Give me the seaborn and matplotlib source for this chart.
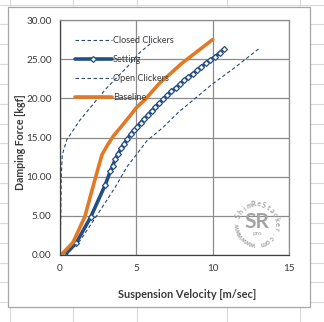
import numpy as np
import pandas as pd
import matplotlib
matplotlib.use("Agg")
import matplotlib.pyplot as plt
from matplotlib.lines import Line2D
from matplotlib.patches import Rectangle
import seaborn as sns

# ---- damper curves: suspension velocity [m/sec] vs damping force [kgf] ----
closed_x = [0.0, 0.05, 0.08, 0.15, 0.44, 1.3, 2.4, 3.05, 4.4, 5.2, 6.0]
closed_y = [0.0, 5.0, 10.0, 12.8, 14.7, 17.2, 19.8, 21.3, 24.0, 25.8, 27.1]

setting_x = [0.30, 1.05, 2.00, 2.95, 3.30, 3.45, 3.62, 3.80, 4.00, 4.20, 4.41,
             4.62, 4.84, 5.06, 5.29, 5.52, 5.76, 6.00, 6.25, 6.51, 6.77, 7.03,
             7.30, 7.57, 7.84, 8.12, 8.40, 8.68, 8.97, 9.26, 9.55, 9.85, 10.15,
             10.45, 10.75]
setting_y = [0.0, 1.5, 4.8, 8.9, 10.7, 11.4, 12.2, 12.9, 13.6, 14.2, 14.8,
             15.4, 15.9, 16.4, 16.9, 17.4, 17.9, 18.4, 18.9, 19.4, 19.9, 20.4,
             20.9, 21.3, 21.8, 22.3, 22.7, 23.1, 23.6, 24.0, 24.5, 24.9, 25.3,
             25.8, 26.3]

open_x = [0.35, 1.3, 2.4, 3.6, 4.4, 5.0, 5.7, 6.7, 7.8, 8.8, 9.9, 11.5, 13.0]
open_y = [0.0, 1.8, 5.0, 8.6, 11.3, 12.8, 14.6, 16.2, 18.3, 19.9, 21.7, 24.0, 26.3]

base_x = [0.07, 0.85, 1.63, 1.96, 2.4, 2.75, 3.1, 3.5, 4.1, 4.6, 5.0, 5.6,
          6.5, 7.2, 8.0, 8.8, 9.4, 10.0]
base_y = [0.0, 1.6, 4.9, 7.3, 10.4, 12.8, 14.0, 15.2, 16.6, 17.8, 18.8, 19.9,
          21.9, 23.1, 24.5, 25.7, 26.6, 27.5]

x_ticks = [0, 5, 10, 15]
y_ticks = [0, 5, 10, 15, 20, 25, 30]
x_label = "Suspension Velocity [m/sec]"
y_label = "Damping Force [kgf]"

sns.set_style("white")
plt.rcParams["font.family"] = ["Lato", "DejaVu Sans"]

W, H = 324, 322
fig = plt.figure(figsize=(W / 100, H / 100), dpi=100)
fig.patch.set_facecolor("white")

# spreadsheet cell grid behind the chart object
cell_color = "#d9d9d9"
for yy in np.arange(4.5, H, 19.85):
    fig.add_artist(Line2D([0, 1], [1 - yy / H] * 2, color=cell_color, lw=0.8, zorder=0))
for xx in [10, 73, 137, 227, 300]:
    fig.add_artist(Line2D([xx / W] * 2, [0, 1], color=cell_color, lw=0.8, zorder=0))

# chart object frame
fig.add_artist(Rectangle((8 / W, 1 - 307 / H), 302 / W, 300 / H, transform=fig.transFigure,
                         facecolor="white", edgecolor="#a6a6a6", lw=0.9, zorder=1))

ax = fig.add_axes([60 / W, 1 - 255 / H, 229 / W, 235 / H])
ax.set_zorder(2)
ax.patch.set_alpha(0)

dark_blue = "#244f86"
dash_blue = "#2a4a72"
orange = "#e27a25"

sns.lineplot(x=closed_x, y=closed_y, ax=ax, sort=False, estimator=None,
             color=dash_blue, lw=0.8, linestyle=(0, (3.2, 2.2)), label="Closed Clickers")
sns.lineplot(x=setting_x, y=setting_y, ax=ax, sort=False, estimator=None,
             color=dark_blue, lw=2.6, marker="D", markersize=3.0,
             markerfacecolor="white", markeredgecolor=dark_blue, markeredgewidth=0.9,
             label="Setting")
sns.lineplot(x=open_x, y=open_y, ax=ax, sort=False, estimator=None,
             color=dash_blue, lw=0.8, linestyle=(0, (3.2, 2.2)), label="Open Clickers")
sns.lineplot(x=base_x, y=base_y, ax=ax, sort=False, estimator=None,
             color=orange, lw=2.6, label="Baseline")

ax.set_xlim(0, 15)
ax.set_ylim(0, 30)
ax.set_xticks(x_ticks)
ax.set_xticklabels([str(v) for v in x_ticks])
ax.set_yticks(y_ticks)
ax.set_yticklabels([f"{v:.2f}" for v in y_ticks])
ax.set_xticks(np.arange(0, 16, 1), minor=True)

grid_color = "#8c8c8c"
ax.grid(True, which="major", color=grid_color, lw=0.9)
ax.set_axisbelow(True)
for side in ["top", "right"]:
    ax.spines[side].set_color(grid_color)
    ax.spines[side].set_linewidth(0.9)
for side in ["left", "bottom"]:
    ax.spines[side].set_color("#404040")
    ax.spines[side].set_linewidth(0.9)

text_color = "#3a3a3a"
ax.tick_params(axis="x", which="both", direction="out", length=2.5, width=0.7,
               color="#7f7f7f", labelsize=7.2, labelcolor=text_color, pad=4)
ax.tick_params(axis="y", which="both", length=0, labelsize=7.2,
               labelcolor=text_color, pad=6)

ax.set_xlabel(x_label, fontsize=7.9, fontweight="bold", color=text_color)
ax.set_ylabel(y_label, fontsize=7.6, fontweight="bold", color=text_color)
ax.xaxis.set_label_coords((187 - 60) / 229, -(294 - 255) / 235)
ax.yaxis.set_label_coords(-(60 - 21) / 229, (255 - 142) / 235)
ax.xaxis.label.set_va("center")
ax.yaxis.label.set_va("center")

leg = ax.legend(loc="upper left", bbox_to_anchor=(0.045, 0.95), frameon=False,
                fontsize=6.6, handlelength=4.0, handletextpad=0.15,
                labelspacing=1.07, borderpad=0, labelcolor=text_color)

# circular site watermark
wm_color = "#a3a3a3"
cx, cy, r = 257, 224, 20
fig.text(cx / W, 1 - (cy - 2) / H, "SR", ha="center", va="center", fontsize=15,
         fontweight="bold", color=wm_color, zorder=5)
fig.text(cx / W, 1 - (cy + 9) / H, "pro", ha="center", va="center", fontsize=4.5,
         color=wm_color, zorder=5)
ring = "www.ShimReStacker.com www"
start, step = 215.0, 14.4
for i, ch in enumerate(ring):
    th = np.deg2rad(start - i * step)
    px = cx + r * np.cos(th)
    py = cy - r * np.sin(th)
    fig.text(px / W, 1 - py / H, ch, ha="center", va="center", fontsize=5.2,
             fontweight="bold", color=wm_color,
             rotation=np.rad2deg(th) - 90, rotation_mode="anchor", zorder=5)

fig.savefig("out.png", dpi=100, facecolor="white")
